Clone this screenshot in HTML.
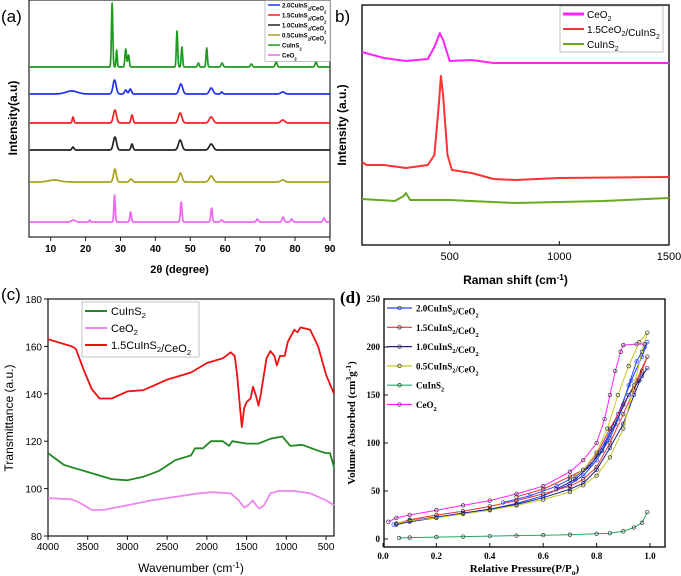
<!DOCTYPE html>
<html><head><meta charset="utf-8"><style>
html,body{margin:0;padding:0;background:#fff;}
svg{display:block;font-family:"Liberation Sans",Arial,sans-serif;}
.d text{font-family:"Liberation Serif",serif;font-weight:bold;}
</style></head><body>
<svg id="fig" width="681" height="576" viewBox="0 0 681 576">
<g id="pa"></g>
<g id="pb"></g>
<g id="pc"></g>
<g id="pd" class="d"></g>
</svg>
<script>
// ---------- (a) XRD data: peaks [position(deg), height, width] ----------
const xrdNames = ["CuInS2","2.0CuInS2/CeO2","1.5CuInS2/CeO2","1.0CuInS2/CeO2","0.5CuInS2/CeO2","CeO2"];
const xrdColors = ["#1f9a1f","#2233ee","#ee2222","#222222","#aaa020","#ee66ee"];
const xrdOffsets = [170,143,114,87,55,15];
const xrdPeaks = [
 [[27.6,64,0.35],[28.9,17,0.3],[31.5,18,0.4],[32.3,12,0.4],[46.2,36,0.35],[47.6,20,0.35],[52.3,4,0.4],[54.7,19,0.35],[59.1,4,0.5],[67.5,3,0.5],[74.6,5,0.5],[86,5,0.5]],
 [[16,3,3],[28.3,14,0.8],[31.5,4,0.6],[32.8,5,0.6],[47.3,10,0.9],[56,6,0.9],[59,2,0.5],[76.5,2,1]],
 [[16.4,6,0.4],[28.4,13,0.8],[33.3,8,0.5],[47.1,10,0.9],[56,6,1],[76.5,3,1]],
 [[16.4,3,0.5],[28.4,13,0.8],[33.3,6,0.5],[47.1,10,0.9],[56,6,1]],
 [[11,2,3],[28.4,13,0.7],[33,3,0.7],[47.2,9,0.8],[56,6,1],[76.5,2,1]],
 [[16.5,2,1],[21.2,2,0.3],[28.3,27,0.35],[32.9,10,0.4],[47.4,20,0.4],[56.1,14,0.4],[59,2,0.5],[69.2,3,0.5],[76.6,5,0.5],[79,3,0.5],[88.3,4,0.5]]
];
const xrdTicks = [10,20,30,40,50,60,70,80,90];
// ---------- (b) Raman ----------
const ramanNames = ["CeO2","1.5CeO2/CuInS2","CuInS2"];
const ramanColors = ["#ff22ff","#ff3333","#66aa22"];
const ramanMag = [[100,193],[200,187],[300,184],[400,186],[430,198],[455,212],[470,205],[500,184],[600,185],[700,182],[1000,182],[1500,182]];
const ramanRed = [[100,83],[120,80],[200,80],[300,77],[400,80],[430,90],[450,140],[460,169],[470,150],[490,90],[510,75],[600,72],[700,66],[800,65],[1000,67],[1500,68]];
const ramanGreen = [[100,46],[250,44],[290,49],[300,52],[320,45],[500,45],[800,42],[1200,44],[1500,47]];
const ramanTicks = [500,1000,1500];
// ---------- (c) FTIR ----------
const ftirNames = ["CuInS2","CeO2","1.5CuInS2/CeO2"];
const ftirColors = ["#228822","#ee88ee","#ee1111"];
const ftirRed = [[4000,163],[3800,161],[3700,160],[3650,159],[3550,150],[3450,142],[3350,138],[3200,138],[3000,141],[2800,141.5],[2500,146],[2200,149],[2000,153],[1800,155],[1700,157.5],[1650,156],[1620,148],[1580,133],[1560,126],[1530,134],[1500,136.5],[1450,138],[1420,143],[1380,139],[1350,135],[1320,140],[1250,155],[1200,158],[1150,156],[1120,152],[1080,156],[1020,156],[980,162],[900,167],[860,166],[820,168],[700,167],[600,160],[500,148],[400,140]];
const ftirGreen = [[4000,115],[3800,110],[3700,109],[3500,107],[3200,104],[3000,103.5],[2800,105],[2600,107.5],[2400,112],[2200,114],[2150,117],[2050,117],[1950,120],[1800,120],[1720,118],[1680,120],[1500,119],[1350,119],[1200,121],[1050,122],[950,118],[800,118.5],[600,116],[500,115],[450,115],[400,109]];
const ftirPink = [[4000,96],[3700,95.5],[3600,94],[3450,91],[3300,91],[3000,93],[2700,95],[2400,96.5],[2100,98],[1950,98.5],[1700,98],[1600,95],[1530,92],[1480,93],[1420,95],[1380,93],[1340,91.5],[1280,93],[1200,98],[1100,99],[900,99],[700,98],[500,95],[400,93]];
const ftirXTicks = [4000,3500,3000,2500,2000,1500,1000,500];
const ftirYTicks = [80,100,120,140,160,180];
// ---------- (d) BET ----------
const betNames = ["2.0CuInS2/CeO2","1.5CuInS2/CeO2","1.0CuInS2/CeO2","0.5CuInS2/CeO2","CuInS2","CeO2"];
const betColors = ["#2244ff","#ee3333","#222288","#c8c820","#22aa66","#ff22ff"];
const bet20 = [[0.04,15],[0.1,19],[0.2,23],[0.3,27],[0.4,31],[0.5,37],[0.6,45],[0.7,57],[0.75,66],[0.8,82],[0.85,105],[0.88,125],[0.92,160],[0.95,185],[0.98,200],[0.99,205],[0.97,190],[0.93,165],[0.88,130],[0.83,100],[0.78,78],[0.72,65],[0.65,55],[0.55,45],[0.45,38]];
const bet15 = [[0.05,16],[0.1,20],[0.2,25],[0.3,29],[0.4,34],[0.5,40],[0.6,47],[0.7,55],[0.75,62],[0.8,75],[0.85,100],[0.9,130],[0.94,155],[0.97,175],[0.99,190],[0.95,165],[0.9,140],[0.85,115],[0.8,88],[0.75,72],[0.7,65],[0.6,52],[0.5,44]];
const bet10 = [[0.05,15],[0.1,18],[0.2,22],[0.3,27],[0.4,31],[0.5,36],[0.6,43],[0.7,52],[0.75,58],[0.8,72],[0.85,95],[0.9,120],[0.94,150],[0.97,170],[0.99,178],[0.96,165],[0.92,150],[0.87,120],[0.82,92],[0.77,75],[0.72,62],[0.65,52]];
const bet05 = [[0.05,16],[0.1,19],[0.2,22],[0.3,26],[0.4,30],[0.5,35],[0.6,41],[0.7,49],[0.75,56],[0.8,66],[0.85,85],[0.9,115],[0.94,160],[0.97,195],[0.99,215],[0.96,205],[0.92,180],[0.88,150],[0.84,115],[0.8,90],[0.75,72],[0.7,62]];
const betCIS = [[0.06,1],[0.1,1.5],[0.2,2],[0.3,2.5],[0.4,3],[0.5,3.5],[0.6,4],[0.7,4.5],[0.8,5.5],[0.85,6],[0.9,8],[0.94,12],[0.97,17],[0.99,28]];
const betCeO2 = [[0.02,18],[0.05,22],[0.1,25],[0.2,30],[0.3,35],[0.4,40],[0.5,47],[0.6,55],[0.7,70],[0.75,82],[0.8,100],[0.83,125],[0.85,150],[0.87,175],[0.89,195],[0.9,202],[0.95,203],[0.98,203]];
const betXTicks = [0,0.2,0.4,0.6,0.8,1.0];
const betYTicks = [0,50,100,150,200,250];

const NS="http://www.w3.org/2000/svg";
function mk(parent,tag,attrs,name,inter){
  const el=document.createElementNS(NS,tag);
  for(const k in attrs) el.setAttribute(k,attrs[k]);
  
  
  parent.appendChild(el); return el;
}
function txt(parent,x,y,s,size,name,extra){
  const a=Object.assign({x:x,y:y,'font-size':size},extra||{});
  const t=mk(parent,'text',a,name,false); t.innerHTML=s; return t;
}
function pathFrom(pts){return pts.map((p,i)=>(i?'L':'M')+p[0].toFixed(1)+','+p[1].toFixed(1)).join('');}
const sub=s=>'<tspan font-size="70%" dy="3">'+s+'</tspan><tspan dy="-3"></tspan>';

// ===== (a) =====
(function(){
 const g=document.getElementById('pa');
 const L=29,R=330,T=0,B=237;
 const xA=v=>50.7+(v-10)*3.49, yA=v=>B-v;
 txt(g,1,22,'(a)',17,'panel-label-a');
 mk(g,'rect',{x:L,y:T,width:R-L,height:B-T,fill:'none',stroke:'#222','stroke-width':1.2},'plot-frame-a');
 xrdTicks.forEach(t=>{mk(g,'line',{x1:xA(t),x2:xA(t),y1:B,y2:B+4,stroke:'#222'},'x-tick-a');
   txt(g,xA(t),B+15,String(t),10,'x-tick-label-a',{'text-anchor':'middle','font-weight':'bold'});});
 txt(g,(L+R)/2,273,'2θ (degree)',11,'x-axis-title-a',{'text-anchor':'middle','font-weight':'bold'});
 txt(g,17,118,'Intensity(a.u)',12,'y-axis-title-a',{'text-anchor':'middle','font-weight':'bold',transform:'rotate(-90 17 118)'});
 xrdPeaks.forEach((pk,i)=>{
   const pts=[];
   for(let v=4;v<=90;v+=0.1){let s=0;pk.forEach(p=>{const w=p[2]*1.3;s+=p[1]*Math.exp(-Math.pow((v-p[0])/w,2)*2.77);});pts.push([xA(v),yA(xrdOffsets[i]+s)]);}
   mk(g,'path',{d:pathFrom(pts),fill:'none',stroke:xrdColors[i],'stroke-width':1.7,'stroke-linejoin':'round'},'xrd-curve-'+i);
 });
 const lg=mk(g,'g',{},'legend-a',false);
 mk(lg,'rect',{x:265,y:0.5,width:65,height:61,fill:'#fff',stroke:'#999','stroke-width':0.6},'legend-box-a');
 const order=[1,2,3,4,0,5];
 order.forEach((k,j)=>{const y=5+j*10;
   mk(lg,'line',{x1:268,x2:280,y1:y,y2:y,stroke:xrdColors[k],'stroke-width':1.5},'legend-swatch-a');
   const n=xrdNames[k].replace('S2','S'+sub('2')).replace('O2','O'+sub('2'));
   txt(lg,282,y+2.5,n,6,'legend-entry-a',{'font-weight':'bold'});});
})();

// ===== (b) =====
(function(){
 const g=document.getElementById('pb');
 const L=362,R=669,T=5,B=245;
 const xB=v=>L+(v-100)*(R-L)/1400, yB=v=>B-v;
 txt(g,335,22,'b)',17,'panel-label-b');
 mk(g,'rect',{x:L,y:T,width:R-L,height:B-T,fill:'none',stroke:'#111','stroke-width':1.4},'plot-frame-b');
 ramanTicks.forEach(t=>{mk(g,'line',{x1:xB(t),x2:xB(t),y1:B,y2:B-4,stroke:'#111'},'x-tick-b');
   txt(g,xB(t),B+15,String(t),11,'x-tick-label-b',{'text-anchor':'middle'});});
 txt(g,(L+R)/2,284,'Raman shift (cm<tspan font-size="70%" dy="-4">-1</tspan><tspan dy="4">)</tspan>',12,'x-axis-title-b',{'text-anchor':'middle','font-weight':'bold'});
 txt(g,346,125,'Intensity (a.u.)',12,'y-axis-title-b',{'text-anchor':'middle','font-weight':'bold',transform:'rotate(-90 346 125)'});
 [ramanMag,ramanRed,ramanGreen].forEach((d,i)=>{
   mk(g,'path',{d:pathFrom(d.map(p=>[xB(p[0]),yB(p[1])])),fill:'none',stroke:ramanColors[i],'stroke-width':2,'stroke-linejoin':'round'},'raman-curve-'+i);});
 const lg=mk(g,'g',{},'legend-b',false);
 mk(lg,'rect',{x:560,y:6,width:103,height:46,fill:'#fff',stroke:'#999','stroke-width':0.6},'legend-box-b');
 ['CeO'+sub('2'),'1.5CeO'+sub('2')+'/CuInS'+sub('2'),'CuInS'+sub('2')].forEach((n,j)=>{const y=14+j*15;
   mk(lg,'line',{x1:563,x2:584,y1:y,y2:y,stroke:ramanColors[j],'stroke-width':j==0?3:2},'legend-swatch-b');
   txt(lg,587,y+4,n,10,'legend-entry-b');});
})();

// ===== (c) =====
(function(){
 const g=document.getElementById('pc');
 const L=48,R=334,T=299,B=536;
 const xC=v=>L+(4000-v)*(R-L)/3600, yC=v=>B-(v-80)*(B-T)/100;
 txt(g,1,300,'(c)',17,'panel-label-c');
 mk(g,'rect',{x:L,y:T,width:R-L,height:B-T,fill:'none',stroke:'#111','stroke-width':1.2},'plot-frame-c');
 ftirXTicks.forEach(t=>{mk(g,'line',{x1:xC(t),x2:xC(t),y1:B,y2:B+4,stroke:'#111'},'x-tick-c');
   txt(g,xC(t),B+14,String(t),10,'x-tick-label-c',{'text-anchor':'middle'});});
 ftirYTicks.forEach(t=>{mk(g,'line',{x1:L-4,x2:L,y1:yC(t),y2:yC(t),stroke:'#111'},'y-tick-c');
   txt(g,L-6,yC(t)+4,String(t),10,'y-tick-label-c',{'text-anchor':'end'});});
 txt(g,(L+R)/2,572,'Wavenumber (cm<tspan font-size="70%" dy="-4">-1</tspan><tspan dy="4">)</tspan>',12,'x-axis-title-c',{'text-anchor':'middle'});
 txt(g,13,418,'Transmittance (a.u.)',12,'y-axis-title-c',{'text-anchor':'middle',transform:'rotate(-90 13 418)'});
 [ftirGreen,ftirPink,ftirRed].forEach((d,i)=>{
   mk(g,'path',{d:pathFrom(d.map(p=>[xC(p[0]),yC(p[1])])),fill:'none',stroke:ftirColors[i],'stroke-width':1.8,'stroke-linejoin':'round'},'ftir-curve-'+i);});
 const lg=mk(g,'g',{},'legend-c',false);
 mk(lg,'rect',{x:82,y:302,width:117,height:55,fill:'#fff',stroke:'#999','stroke-width':0.6},'legend-box-c');
 ['CuInS'+sub('2'),'CeO'+sub('2'),'1.5CuInS'+sub('2')+'/CeO'+sub('2')].forEach((n,j)=>{const y=311+j*17;
   mk(lg,'line',{x1:85,x2:107,y1:y,y2:y,stroke:ftirColors[j],'stroke-width':2},'legend-swatch-c');
   txt(lg,111,y+4,n,11,'legend-entry-c');});
})();

// ===== (d) =====
(function(){
 const g=document.getElementById('pd');
 const L=384,R=665,T=299,B=547;
 const xD=v=>383+v*267, yD=v=>539-v*0.96;
 txt(g,340,303,'(d)',17,'panel-label-d',{'font-family':'Liberation Sans, sans-serif','font-weight':'normal'});
 mk(g,'rect',{x:L,y:T,width:R-L,height:B-T,fill:'none',stroke:'#111','stroke-width':1.4},'plot-frame-d');
 betXTicks.forEach(t=>{mk(g,'line',{x1:xD(t),x2:xD(t),y1:B,y2:B-4,stroke:'#111'},'x-tick-d');
   txt(g,xD(t),B+12,t.toFixed(1),9,'x-tick-label-d',{'text-anchor':'middle'});});
 betYTicks.forEach(t=>{mk(g,'line',{x1:L,x2:L+4,y1:yD(t),y2:yD(t),stroke:'#111'},'y-tick-d');
   txt(g,L-4,yD(t)+3,String(t),9,'y-tick-label-d',{'text-anchor':'end'});});
 txt(g,(L+R)/2,572,'Relative Pressure(P/P<tspan font-size="70%" dy="3">o</tspan><tspan dy="-3">)</tspan>',11,'x-axis-title-d',{'text-anchor':'middle'});
 txt(g,355,423,'Volume Absorbed (cm<tspan font-size="70%" dy="-4">3</tspan><tspan dy="4">g</tspan><tspan font-size="70%" dy="-4">-1</tspan><tspan dy="4">)</tspan>',11,'y-axis-title-d',{'text-anchor':'middle',transform:'rotate(-90 355 423)'});
 [bet20,bet15,bet10,bet05,betCIS,betCeO2].forEach((d,i)=>{
   const sg=mk(g,'g',{},'bet-series-'+i,false);
   mk(sg,'path',{d:pathFrom(d.map(p=>[xD(p[0]),yD(p[1])])),fill:'none',stroke:betColors[i],'stroke-width':1},'bet-line-'+i);
   d.forEach(p=>{mk(sg,'circle',{cx:xD(p[0]),cy:yD(p[1]),r:1.8,fill:'none',stroke:i==0||i==2?betColors[i]:'#333','stroke-width':0.7},'bet-point');});
 });
 const lg=mk(g,'g',{},'legend-d',false);
 const labs=['2.0CuInS'+sub('2')+'/CeO'+sub('2'),'1.5CuInS'+sub('2')+'/CeO'+sub('2'),'1.0CuInS'+sub('2')+'/CeO'+sub('2'),'0.5CuInS'+sub('2')+'/CeO'+sub('2'),'CuInS'+sub('2'),'CeO'+sub('2')];
 labs.forEach((n,j)=>{const y=308+j*19.3;
   mk(lg,'line',{x1:387,x2:412,y1:y,y2:y,stroke:betColors[j],'stroke-width':1.2},'legend-swatch-d');
   mk(lg,'circle',{cx:399.5,cy:y,r:1.8,fill:'none',stroke:'#333','stroke-width':0.7},'legend-marker-d');
   txt(lg,416,y+3.5,n,9,'legend-entry-d');});
})();
</script>
</body></html>
